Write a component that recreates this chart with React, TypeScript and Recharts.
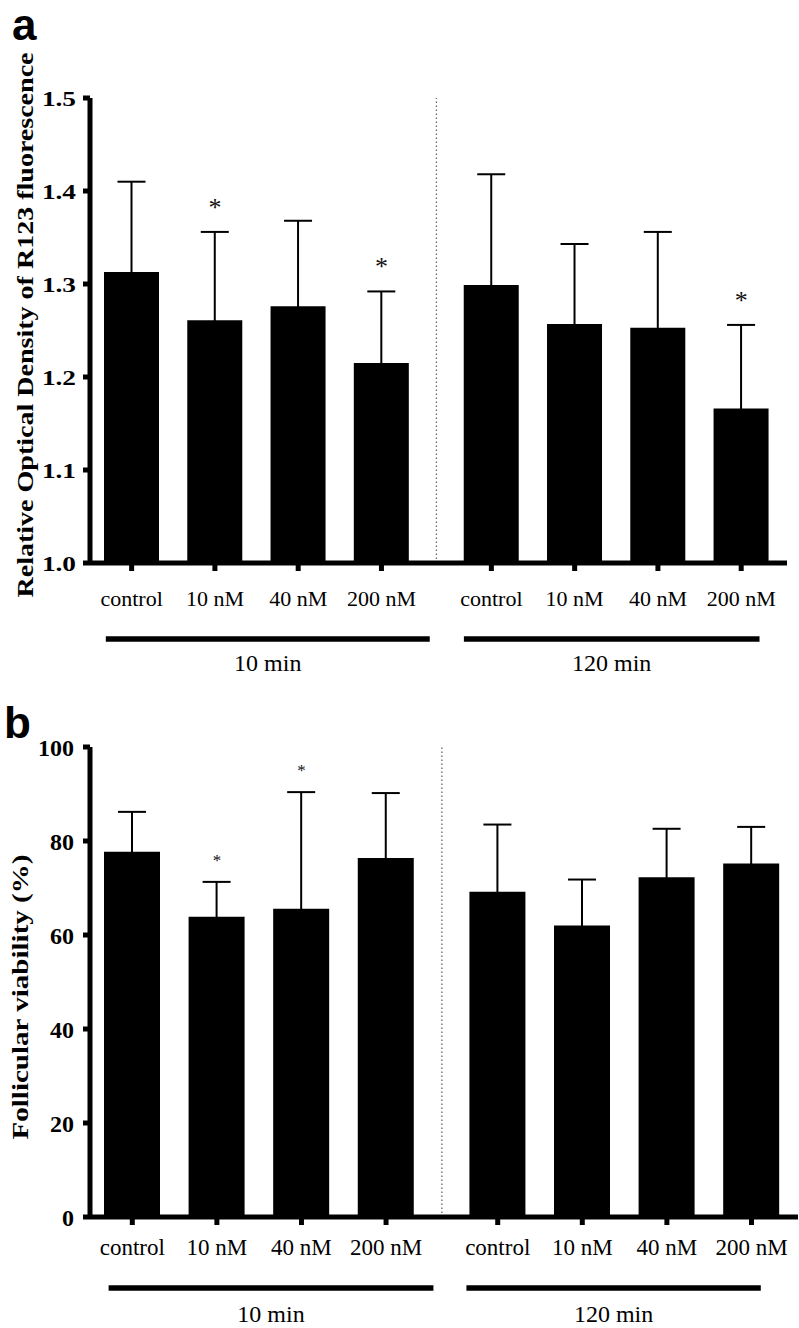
import React from 'react';
import { ComposedChart, Bar, ErrorBar, Scatter, XAxis, YAxis, ReferenceLine } from 'recharts';

const serif = '"Liberation Serif", "Times New Roman", Times, serif';
const sans = '"Liberation Sans", Arial, Helvetica, sans-serif';

// x slots: two groups of four doses, second group shifted to leave a gap
const doses = ['control', '10 nM', '40 nM', '200 nM', 'control', '10 nM', '40 nM', '200 nM'];
const slots = [1, 2, 3, 4, 5.32, 6.32, 7.32, 8.32];
const divider = 4.66;
const groupNames = ['10 min', '120 min'];

// panel a - R123 fluorescence
const r123Mean = [1.313, 1.261, 1.276, 1.215, 1.299, 1.257, 1.253, 1.166];
const r123Sd = [0.097, 0.095, 0.092, 0.077, 0.119, 0.086, 0.103, 0.090];
const r123Sig = [false, true, false, true, false, false, false, true];
const r123Ticks = [1.0, 1.1, 1.2, 1.3, 1.4, 1.5];
const r123GroupFrom = [0.69, 4.99];
const r123GroupTo = [4.58, 8.54];

// panel b - follicular viability
const viaMean = [77.7, 63.9, 65.6, 76.4, 69.2, 62.0, 72.3, 75.2];
const viaSd = [8.5, 7.4, 24.8, 13.8, 14.3, 9.8, 10.3, 7.8];
const viaSig = [false, true, true, false, false, false, false, false];
const viaTicks = [0, 20, 40, 60, 80, 100];
const viaGroupFrom = [0.72, 4.95];
const viaGroupTo = [4.56, 8.43];

// lower half of each error bar is hidden inside the black bar
const rowsOf = (mean: number[], sd: number[], sig: boolean[]) =>
  slots.map((pos, i) => ({
    pos,
    name: doses[i],
    mean: mean[i],
    sd: sd[i],
    top: mean[i] + sd[i],
    sig: sig[i],
  }));

const doseTick = (dy: number, size: number) => (p: any) => {
  const i = slots.indexOf(p.payload.value);
  return (
    <text x={p.x} y={p.y + dy} textAnchor="middle" fontFamily={serif} fontSize={size} fill="#000">
      {doses[i]}
    </text>
  );
};

const valueTick = (size: number, stretch: number, fmt: (v: number) => string) => (p: any) => (
  <text
    transform={`translate(${p.x} ${p.y}) scale(${stretch} 1)`}
    x={0}
    y={0}
    dy="0.36em"
    textAnchor="end"
    fontFamily={serif}
    fontWeight="bold"
    fontSize={size}
    fill="#000"
  >
    {fmt(p.payload.value)}
  </text>
);

const yTitle = (text: string, x: number, y: number, size: number, len: number) => () => (
  <text
    x={x}
    y={y}
    transform={`rotate(-90 ${x} ${y})`}
    textAnchor="middle"
    fontFamily={serif}
    fontWeight="bold"
    fontSize={size}
    fill="#000"
    textLength={len}
    lengthAdjust="spacingAndGlyphs"
  >
    {text}
  </text>
);

const star = (size: number, lift: number) => (p: any) => (
  <text x={p.cx} y={p.cy - lift} textAnchor="middle" fontFamily={serif} fontSize={size} fill="#111">
    *
  </text>
);

type PanelProps = {
  top: number;
  width: number;
  height: number;
  margin: { top: number; right: number; bottom: number; left: number };
  rows: ReturnType<typeof rowsOf>;
  yDomain: [number, number];
  yTicks: number[];
  yFmt: (v: number) => string;
  yTickSize: number;
  yTickStretch: number;
  yTickMargin: number;
  title: () => React.ReactElement;
  barSize: number;
  doseDy: number;
  doseSize: number;
  starSize: number;
  starLift: number;
  groupY: number;
  groupFrom: number[];
  groupTo: number[];
  groupOffset: number;
};

function Panel(props: PanelProps) {
  const { rows } = props;
  return (
    <div style={{ position: 'absolute', left: 0, top: props.top }}>
      <ComposedChart width={props.width} height={props.height} data={rows} margin={props.margin}>
        <XAxis
          dataKey="pos"
          type="number"
          domain={[0.5, 8.87]}
          allowDataOverflow
          ticks={slots}
          interval={0}
          height={40}
          stroke="#000"
          axisLine={{ stroke: '#000', strokeWidth: 5 }}
          tickLine={{ stroke: '#000', strokeWidth: 5 }}
          tickSize={8}
          tick={doseTick(props.doseDy, props.doseSize)}
        />
        <YAxis
          type="number"
          domain={props.yDomain}
          allowDataOverflow
          ticks={props.yTicks}
          interval={0}
          width={90}
          stroke="#000"
          axisLine={{ stroke: '#000', strokeWidth: 5 }}
          tickLine={{ stroke: '#000', strokeWidth: 5 }}
          tickSize={7}
          tickMargin={props.yTickMargin}
          tick={valueTick(props.yTickSize, props.yTickStretch, props.yFmt)}
          label={props.title}
        />
        <ReferenceLine x={divider} stroke="#666" strokeWidth={1.3} strokeDasharray="1.5 2.5" />
        <Bar dataKey="mean" fill="#000" barSize={props.barSize} isAnimationActive={false}>
          <ErrorBar dataKey="sd" direction="y" width={14} stroke="#000" strokeWidth={2} />
        </Bar>
        <Scatter
          data={rows.filter((r) => r.sig)}
          dataKey="top"
          shape={star(props.starSize, props.starLift)}
          isAnimationActive={false}
        />
        {groupNames.map((g, i) => (
          <ReferenceLine
            key={g}
            segment={[
              { x: props.groupFrom[i], y: props.groupY },
              { x: props.groupTo[i], y: props.groupY },
            ]}
            ifOverflow="visible"
            stroke="#000"
            strokeWidth={5.5}
            label={{
              value: g,
              position: 'bottom',
              offset: props.groupOffset,
              fill: '#000',
              fontSize: 24,
              fontFamily: serif,
            }}
          />
        ))}
      </ComposedChart>
    </div>
  );
}

export default function App() {
  return (
    <div style={{ position: 'absolute', left: 0, top: 0, width: 799, height: 1328, background: '#fff' }}>
      <Panel
        top={0}
        width={799}
        height={690}
        margin={{ top: 98, right: 12, bottom: 87, left: 0 }}
        rows={rowsOf(r123Mean, r123Sd, r123Sig)}
        yDomain={[1.0, 1.5]}
        yTicks={r123Ticks}
        yFmt={(v) => v.toFixed(1)}
        yTickSize={21}
        yTickStretch={1.3}
        yTickMargin={7}
        title={yTitle('Relative Optical Density of  R123  fluorescence', 33, 325, 23, 545)}
        barSize={55}
        doseDy={33}
        doseSize={22}
        starSize={26}
        starLift={16}
        groupY={0.9183}
        groupFrom={r123GroupFrom}
        groupTo={r123GroupTo}
        groupOffset={15}
      />
      <Panel
        top={690}
        width={799}
        height={638}
        margin={{ top: 57, right: 1, bottom: 71, left: 0 }}
        rows={rowsOf(viaMean, viaSd, viaSig)}
        yDomain={[0, 100]}
        yTicks={viaTicks}
        yFmt={(v) => String(v)}
        yTickSize={24}
        yTickStretch={1.0}
        yTickMargin={9}
        title={yTitle('Follicular viability (%)', 28, 307, 23, 285)}
        barSize={56}
        doseDy={28}
        doseSize={23}
        starSize={17}
        starLift={16}
        groupY={-15.1}
        groupFrom={viaGroupFrom}
        groupTo={viaGroupTo}
        groupOffset={17}
      />
      <svg width={799} height={1328} style={{ position: 'absolute', left: 0, top: 0, pointerEvents: 'none' }}>
        <text x={12} y={40} fontFamily={sans} fontWeight="bold" fontSize={44} fill="#000">
          a
        </text>
        <text x={4} y={738} fontFamily={sans} fontWeight="bold" fontSize={44} fill="#000">
          b
        </text>
      </svg>
    </div>
  );
}
